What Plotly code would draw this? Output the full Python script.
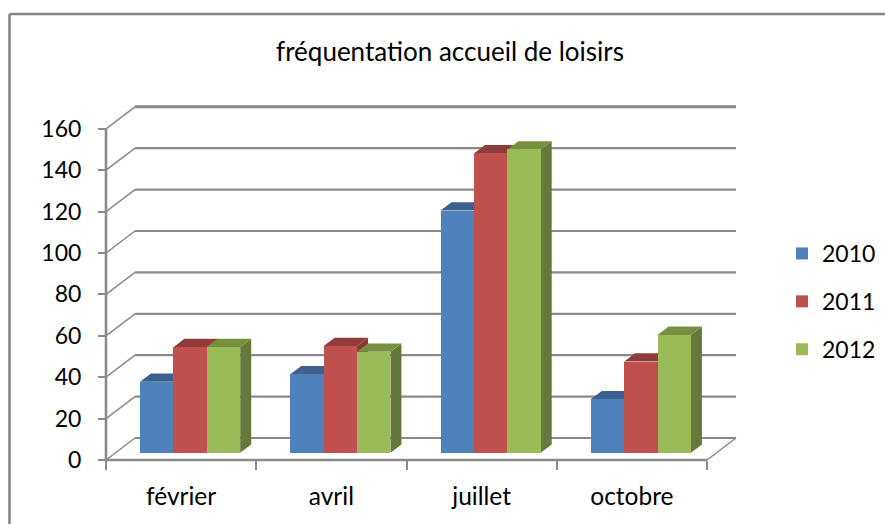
import plotly.graph_objects as go

categories = ["février", "avril", "juillet", "octobre"]
years = ["2010", "2011", "2012"]
values_2010 = [34.3, 37.9, 117, 25.8]
values_2011 = [51, 51.5, 144.6, 44]
values_2012 = [51, 48.8, 146.5, 56.9]
y_ticks = [0, 20, 40, 60, 80, 100, 120, 140, 160]

series = [values_2010, values_2011, values_2012]
front = ["#4F81BD", "#C0504D", "#9BBB59"]
top = ["#3C6190", "#8F3C3A", "#76903F"]
side = ["#3A5D8A", "#8A3836", "#66793A"]
GRAY = "#8A8A8A"

W, H = 885, 524
X0, Y0 = 106, 460          # pixel of category 0 / value 0
CAT, UNIT = 150.25, 2.07   # pixels per category / per value unit
L, R, T, B = 100, 745, 98, 466   # plot box in pixels
xr = [(L - X0) / CAT, (R - X0) / CAT]
yr = [(Y0 - B) / UNIT, (Y0 - T) / UNIT]
DX, DY = 29 / CAT, 22 / UNIT      # wall depth
BASE_X, BASE_Y = 34 / CAT, 7.3 / UNIT   # first bar's front-left foot
BW = 33.4 / CAT
BDX, BDY = 11 / CAT, 8.3 / UNIT   # bar depth

shapes = []
def line(x0, y0, x1, y1, width=2.2, color=GRAY):
    shapes.append(dict(type="line", xref="x", yref="y", layer="below", x0=x0, y0=y0, x1=x1, y1=y1,
                       line=dict(color=color, width=width)))
def poly(pts, color):
    path = "M" + "L".join(f"{a},{b}" for a, b in pts) + "Z"
    shapes.append(dict(type="path", xref="x", yref="y", layer="below", path=path,
                       fillcolor=color, line=dict(width=0)))

n = len(categories)
for v in y_ticks:
    line(DX, v + DY, n + DX, v + DY, 3 if v == y_ticks[-1] else 2.2)
    line(0, v, DX, v + DY, 1.5)
line(n, 0, n + DX, DY, 1.5)
line(0, 0, n, 0, 2.6)
line(0, 0, 0, y_ticks[-1], 2.6)

for s, vals in enumerate(series):
    for c, v in enumerate(vals):
        x0 = c + BASE_X + s * BW
        x1 = x0 + BW
        b = BASE_Y
        poly([(x1, b), (x1 + BDX, b + BDY), (x1 + BDX, b + v + BDY), (x1, b + v)], side[s])
        poly([(x0, b + v), (x0 + BDX, b + v + BDY), (x1 + BDX, b + v + BDY), (x1, b + v)], top[s])

fig = go.Figure()
for s, vals in enumerate(series):
    fig.add_bar(
        x=[c + BASE_X + (s + 0.5) * BW for c in range(n)],
        y=vals, base=BASE_Y, width=BW, name=years[s],
        marker=dict(color=front[s], line=dict(width=0)),
        legendgroup=years[s], customdata=categories,
        hovertemplate="%{customdata} " + years[s] + " : %{y}<extra></extra>",
    )

px_w, px_h = R - L, B - T
# outer chart frame, in plot-box fractions
fx = (9.5 - L) / px_w
fy = (B - 14) / px_h
fb = (B - H) / px_h
for pos in [dict(x0=fx, x1=fx, y0=fb, y1=fy), dict(x0=fx, x1=(W - L) / px_w, y0=fy, y1=fy)]:
    shapes.append(dict(type="line", xref="paper", yref="paper", layer="above",
                       line=dict(color="#868686", width=2.6), **pos))

font = dict(family="Lato, Carlito, sans-serif", color="#000000")
fig.update_layout(
    width=W, height=H, autosize=False,
    margin=dict(l=L, r=W - R, t=T, b=H - B, pad=0),
    paper_bgcolor="white", plot_bgcolor="white",
    barmode="overlay", bargap=0, shapes=shapes,
    title=dict(text="fréquentation accueil de loisirs", x=450 / W, xanchor="center", xref="container",
               y=1 - 52 / H, yanchor="middle", yref="container", font=dict(size=26, **font)),
    showlegend=True,
    legend=dict(x=782 / W, xref="container", xanchor="left", y=1 - 232 / H, yref="container", yanchor="top",
                font=dict(size=23, **font), tracegroupgap=15, bgcolor="rgba(0,0,0,0)",
                itemclick=False, itemdoubleclick=False),
    xaxis=dict(range=xr, tickmode="array", tickvals=[c + 0.5 for c in range(n)], ticktext=categories,
               ticks="", showgrid=False, zeroline=False, showline=False, fixedrange=True,
               anchor="free", position=(B - Y0) / px_h, ticklabelstandoff=19,
               tickfont=dict(size=24.5, **font),
               minor=dict(tickmode="array", tickvals=list(range(n + 1)), ticks="outside", ticklen=9,
                          tickwidth=2.4, tickcolor=GRAY, showgrid=False)),
    yaxis=dict(range=yr, tickmode="array", tickvals=y_ticks, ticks="outside", ticklen=8, tickwidth=2.4,
               tickcolor=GRAY, showgrid=False, zeroline=False, showline=False, fixedrange=True,
               anchor="free", position=(X0 - L) / px_w, ticklabelstandoff=12,
               tickfont=dict(size=23, **font)),
)

fig.write_html("out.html", config={"displayModeBar": False},
               post_script="document.body.style.margin='0';document.body.style.overflow='hidden';")
